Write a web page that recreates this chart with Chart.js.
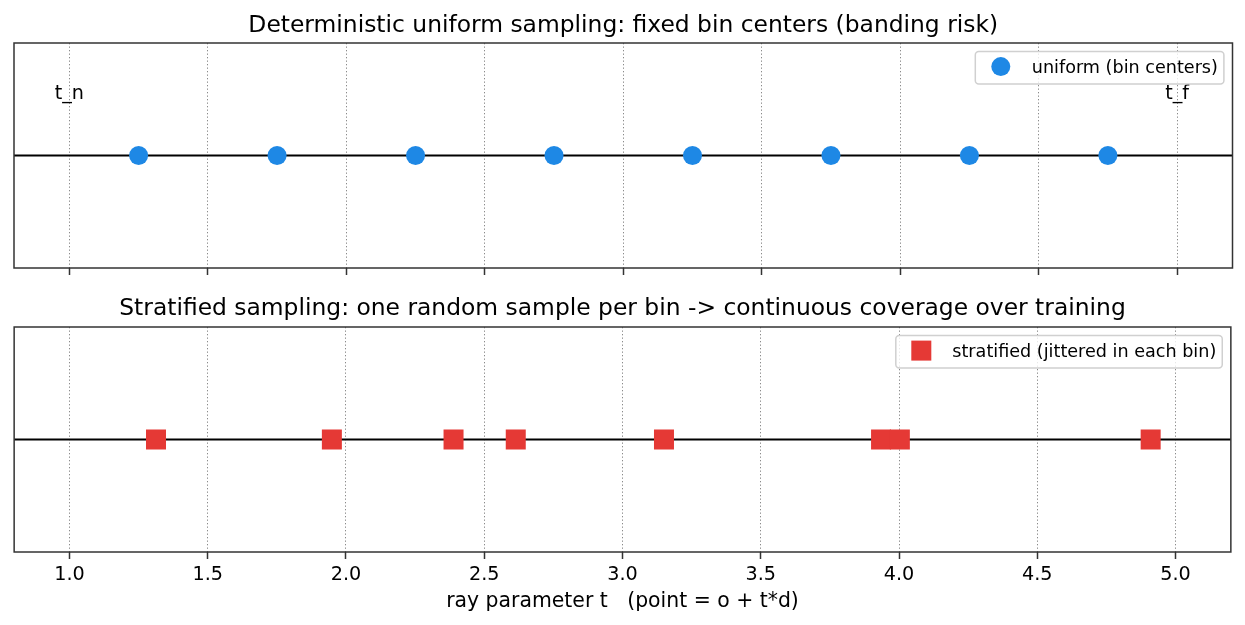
<!DOCTYPE html>
<html><head><meta charset="utf-8">
<script src="https://cdn.jsdelivr.net/npm/chart.js@4.4.1/dist/chart.umd.min.js"></script>
<style>
html,body{margin:0;padding:0;background:#fff;}
#wrap{position:relative;width:1245px;height:625px;overflow:hidden;}
canvas{position:absolute;left:0;}
</style></head><body>
<div id="wrap">
<canvas id="c1" width="1245" height="297" style="top:0px"></canvas>
<canvas id="c2" width="1245" height="328" style="top:297px"></canvas>
</div>
<script>
// ---- data ----
const uniformT = [1.25, 1.75, 2.25, 2.75, 3.25, 3.75, 4.25, 4.75];
const stratifiedT = [1.313, 1.949, 2.389, 2.614, 3.150, 3.935, 4.003, 4.910];
const xTicks = [1.0, 1.5, 2.0, 2.5, 3.0, 3.5, 4.0, 4.5, 5.0];
const xTickLabels = ['1.0', '1.5', '2.0', '2.5', '3.0', '3.5', '4.0', '4.5', '5.0'];
const boundaryT = [1.0, 5.0];
const boundaryLabels = ['t_n', 't_f'];
const titles = ['Deterministic uniform sampling: fixed bin centers (banding risk)',
                'Stratified sampling: one random sample per bin -> continuous coverage over training'];
const legendLabels = ['uniform (bin centers)', 'stratified (jittered in each bin)'];
const xLabel = 'ray parameter t   (point = o + t*d)';

const FONT = '"DejaVu Sans", "Liberation Sans", sans-serif';
const BLUE = '#1E88E5', RED = '#E53935';

function framePlugin(cfg) {
  return {
    id: 'frame' + cfg.idx,
    beforeDatasetsDraw(chart) {
      const ctx = chart.ctx, a = chart.chartArea, y = chart.scales.y.getPixelForValue(0);
      ctx.save();
      ctx.strokeStyle = '#000'; ctx.lineWidth = 2;
      ctx.beginPath(); ctx.moveTo(a.left, y); ctx.lineTo(a.right, y); ctx.stroke();
      ctx.restore();
    },
    afterDatasetsDraw(chart) {
      const ctx = chart.ctx;
      if (cfg.annot) {
        ctx.save();
        ctx.font = '19.2px ' + FONT; ctx.fillStyle = '#000';
        ctx.textAlign = 'center'; ctx.textBaseline = 'alphabetic';
        boundaryT.forEach((t, i) => {
          ctx.fillText(boundaryLabels[i], chart.scales.x.getPixelForValue(t), chart.scales.y.getPixelForValue(0.5));
        });
        ctx.restore();
      }
    },
    afterDraw(chart) {
      const ctx = chart.ctx, a = chart.chartArea;
      ctx.save();
      // frame
      ctx.strokeStyle = '#333'; ctx.lineWidth = 1.5;
      ctx.strokeRect(a.left, a.top, a.right - a.left, a.bottom - a.top);
      // title
      ctx.fillStyle = '#000'; ctx.font = '23.4px ' + FONT;
      ctx.textAlign = 'center'; ctx.textBaseline = 'alphabetic';
      ctx.fillText(cfg.title, (a.left + a.right) / 2, cfg.titleBase);
      // x label
      if (cfg.xlabel) {
        ctx.font = '20.4px ' + FONT;
        ctx.fillText(cfg.xlabel, (a.left + a.right) / 2, cfg.xlabelBase);
      }
      // legend
      ctx.font = '17.6px ' + FONT;
      const tw = ctx.measureText(cfg.legend).width;
      const w = 55.5 + tw + 7, h = 32.5;
      const right = a.right - 8.6, top = a.top + 8.6, left = right - w;
      ctx.beginPath();
      ctx.roundRect(left, top, w, h, 3.5);
      ctx.fillStyle = 'rgba(255,255,255,0.8)'; ctx.fill();
      ctx.strokeStyle = '#d0d0d0'; ctx.lineWidth = 1.5; ctx.stroke();
      ctx.fillStyle = cfg.color;
      const mx = left + 25.5, my = top + 15;
      if (cfg.marker === 'circle') {
        ctx.beginPath(); ctx.arc(mx, my, 9.5, 0, Math.PI * 2); ctx.fill();
      } else {
        ctx.fillRect(mx - 10, my - 10, 20, 20);
      }
      ctx.fillStyle = '#000'; ctx.textAlign = 'left';
      ctx.fillText(cfg.legend, left + 56.5, top + 21.8);
      ctx.restore();
    }
  };
}

function makeChart(id, cfg) {
  return new Chart(document.getElementById(id), {
    type: 'scatter',
    data: {
      datasets: [{
        label: cfg.legend,
        data: cfg.values.map(t => ({ x: t, y: 0 })),
        pointStyle: cfg.marker === 'circle' ? 'circle' : 'rect',
        pointRadius: cfg.marker === 'circle' ? 9.5 : 14.142,
        pointHoverRadius: cfg.marker === 'circle' ? 9.5 : 14.142,
        pointBorderWidth: 0,
        backgroundColor: cfg.color,
        borderColor: cfg.color,
        showLine: false
      }]
    },
    options: {
      responsive: false,
      devicePixelRatio: 1,
      animation: false,
      events: [],
      layout: { padding: { left: 14, right: 12.5, top: cfg.padTop, bottom: 0 } },
      plugins: { legend: { display: false }, title: { display: false }, tooltip: { enabled: false } },
      scales: {
        x: {
          type: 'linear', min: 0.8, max: 5.2,
          afterBuildTicks: (s) => { s.ticks = xTicks.map(v => ({ value: v })); },
          afterFit: (s) => { s.height = cfg.axisH; },
          border: { display: false, dash: [1.3, 2.2] },
          grid: {
            display: true, drawOnChartArea: true, drawTicks: true,
            color: '#8a8a8a', lineWidth: 1,
            tickLength: 7, tickWidth: 1.5, tickColor: '#333', tickBorderDash: []
          },
          ticks: {
            color: cfg.tickLabels ? '#000' : 'rgba(0,0,0,0)',
            font: { family: FONT, size: 19.2 },
            padding: 4,
            maxRotation: 0, autoSkip: false,
            callback: (v) => { const i = xTicks.indexOf(v); return i >= 0 ? xTickLabels[i] : ''; }
          }
        },
        y: { type: 'linear', min: -1, max: 1, display: false }
      }
    },
    plugins: [framePlugin(cfg)]
  });
}

makeChart('c1', { idx: 1, values: uniformT, marker: 'circle', color: BLUE, legend: legendLabels[0],
  title: titles[0], titleBase: 32, padTop: 43, axisH: 29, tickLabels: false, annot: true });
makeChart('c2', { idx: 2, values: stratifiedT, marker: 'rect', color: RED, legend: legendLabels[1],
  title: titles[1], titleBase: 18, padTop: 30, axisH: 73, tickLabels: true, annot: false,
  xlabel: xLabel, xlabelBase: 310 });
</script>
</body></html>
